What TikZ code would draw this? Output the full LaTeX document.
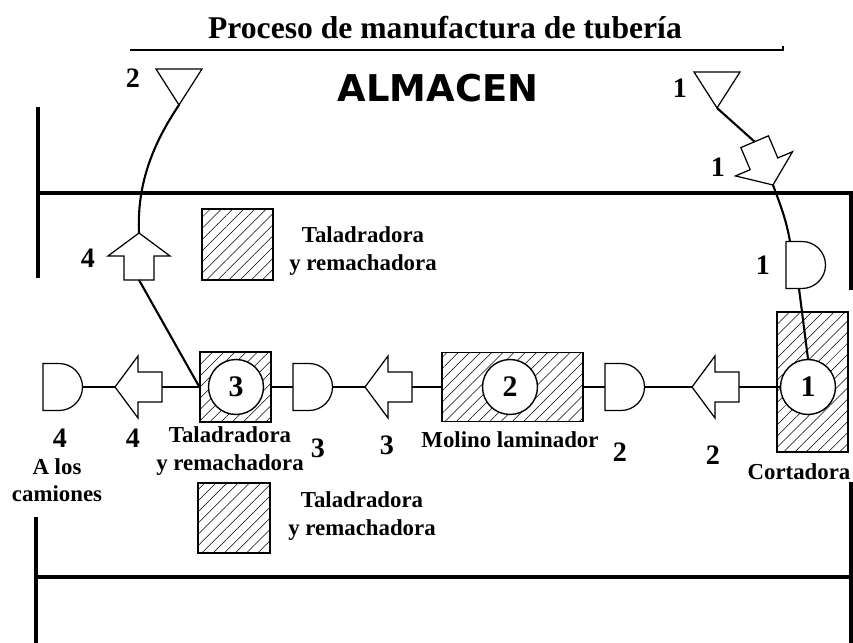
\documentclass[tikz,border=0pt]{standalone}
\usepackage{fontspec}
\setmainfont{Liberation Serif}
\newfontfamily\almacenfont{DejaVu Sans}
\usetikzlibrary{patterns.meta}

\begin{document}
\begin{tikzpicture}[x=0.02cm,y=0.02cm,
    muro/.style={line width=2.8pt},
    flujo/.style={line width=1.2pt},
    maquina/.style={draw,line width=0.7pt,pattern={Lines[angle=45,distance=4.5pt,line width=0.3pt]},inner sep=0pt},
    oper/.style={draw,circle,fill=white,line width=0.8pt,minimum size=1.1cm,inner sep=0pt,font=\fontsize{17}{17}\selectfont\bfseries},
    num/.style={font=\fontsize{16}{16}\selectfont\bfseries},
    texto/.style={align=center,font=\fontsize{13}{15.5}\selectfont\bfseries},
    flecha/.pic={
      \draw[line width=0.7pt,fill=white] (0,0) -- (-23,31) -- (-23,15) -- (-47,15) -- (-47,-15) -- (-23,-15) -- (-23,-31) -- cycle;
      \coordinate (-punta) at (0,0);
      \coordinate (-cola) at (-47,0);},
    demora/.pic={
      \draw[line width=0.7pt,fill=white] (0,23.5) -- (16,23.5) arc[start angle=90,end angle=-90,radius=23.5] -- (0,-23.5) -- cycle;
      \coordinate (-izq) at (0,0);
      \coordinate (-der) at (39.5,0);
      \coordinate (-n) at (4,23.5);
      \coordinate (-s) at (13,-23.5);},
    almacen/.pic={
      \draw[line width=0.7pt] (0,0) -- (-23,36) -- (23,36) -- cycle;
      \coordinate (-vertice) at (0,0);}
  ]
\useasboundingbox (0,0) rectangle (853,643);

% titulo
\node[font=\fontsize{18}{18}\selectfont\bfseries] (titulo) at (445,615) {Proceso de manufactura de tubería};
\draw[line width=1pt] (130,593) -- (783,593) -- (783,597);
\node[font=\almacenfont\bfseries\fontsize{21}{21}\selectfont] (alm) at (438,555) {ALMACEN};

% muros
\draw[muro] (38,536) -- (38,365);
\draw[muro] (38,450) -- (853,450);
\draw[muro] (851,449) -- (851,353);
\draw[muro] (36,66) -- (853,66);
\draw[muro] (36,126) -- (36,0);
\draw[muro] (851,161) -- (851,0);

% maquinas
\node[maquina,minimum width=1.42cm,minimum height=2.8cm] (maq1) at (812.5,261) {};
\node[maquina,minimum width=2.82cm,minimum height=1.38cm] (maq2) at (512.5,256) {};
\node[maquina,minimum width=1.42cm,minimum height=1.4cm] (maq3) at (235.5,256) {};
\node[maquina,minimum width=1.42cm,minimum height=1.42cm] (maqA) at (237.5,398.5) {};
\node[maquina,minimum width=1.44cm,minimum height=1.4cm] (maqB) at (234,125) {};
\node[oper] (op1) at (808,256) {1};
\node[oper] (op2) at (510,256) {2};
\node[oper] (op3) at (236,256) {3};

% simbolos
\pic (al2) at (179,538) {almacen};
\pic (al1) at (717,535) {almacen};
\pic[rotate=-67] (tr1) at (773,458) {flecha};
\pic (de1) at (786,378) {demora};
\pic[rotate=90] (tr5) at (139,410) {flecha};
\pic (de4) at (43,256) {demora};
\pic[rotate=180] (tr4) at (115,256) {flecha};
\pic (de3) at (293,256) {demora};
\pic[rotate=180] (tr3) at (365,256) {flecha};
\pic (de2) at (605,256) {demora};
\pic[rotate=180] (tr2) at (692,256) {flecha};

% flujo
\draw[flujo] (al2-vertice) .. controls (150,495) and (137,455) .. (tr5-punta);
\draw[flujo] (tr5-cola) -- (maq3.west);
\draw[flujo] (al1-vertice) -- (tr1-cola);
\draw[flujo] (tr1-punta) to[out=-70,in=100] (de1-n);
\draw[flujo] (de1-s) -- (op1.north);
\draw[flujo] (de4-der) -- (tr4-punta);
\draw[flujo] (tr4-cola) -- (maq3.west);
\draw[flujo] (maq3.east) -- (de3-izq);
\draw[flujo] (de3-der) -- (tr3-punta);
\draw[flujo] (tr3-cola) -- (maq2.west);
\draw[flujo] (maq2.east) -- (de2-izq);
\draw[flujo] (de2-der) -- (tr2-punta);
\draw[flujo] (tr2-cola) -- (op1.west);

% etiquetas
\node[num] (n2a) at (133,565) {2};
\node[num] (n1a) at (680,555) {1};
\node[num] (n1b) at (718,476) {1};
\node[num] (n1c) at (763,378) {1};
\node[num] (n4a) at (88,385) {4};
\node[num] (n4b) at (60,205) {4};
\node[num] (n4c) at (133,205) {4};
\node[num] (n3a) at (318,195) {3};
\node[num] (n3b) at (387,198) {3};
\node[num] (n2b) at (620,191) {2};
\node[num] (n2c) at (713,188) {2};
\node[texto] (txA) at (363,392) {Taladradora\\y remachadora};
\node[texto] (tx3) at (230,192) {Taladradora\\y remachadora};
\node[texto] (txB) at (362,127) {Taladradora\\y remachadora};
\node[texto] (tx2) at (510,203) {Molino laminador};
\node[texto] (tx1) at (799,171) {Cortadora};
\node[texto] (tx4) at (57,163) {A los\\camiones};
\end{tikzpicture}
\end{document}
